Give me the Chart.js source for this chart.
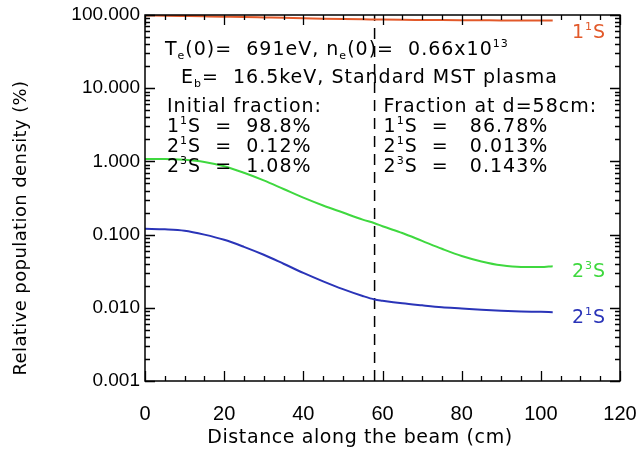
<!DOCTYPE html>
<html>
<head>
<meta charset="utf-8">
<script src="https://cdn.jsdelivr.net/npm/chart.js@4.4.1/dist/chart.umd.min.js"></script>
<style>
  html, body { margin: 0; padding: 0; background: #fff; }
  canvas { display: block; }
</style>
</head>
<body>
<canvas id="chart" width="641" height="451"></canvas>
<script>
// distance along the beam (cm)
const distance = [0, 5, 10, 15, 20, 25, 30, 35, 40, 45, 50, 55, 58, 60, 65, 70, 75, 80, 85, 90, 95, 100, 103];
// relative populations (%)
const pop11S = [98.8, 97.8, 96.8, 95.8, 94.8, 93.8, 92.6, 91.4, 90.3, 89.1, 88.1, 87.2, 86.78, 86.5, 86.0, 85.6, 85.2, 84.9, 84.6, 84.4, 84.2, 84.0, 83.9];
const pop23S = [1.08, 1.08, 1.05, 0.98, 0.86, 0.70, 0.55, 0.42, 0.32, 0.25, 0.20, 0.16, 0.143, 0.13, 0.105, 0.082, 0.064, 0.051, 0.043, 0.038, 0.036, 0.036, 0.037];
const pop21S = [0.12, 0.118, 0.113, 0.10, 0.085, 0.068, 0.053, 0.040, 0.030, 0.023, 0.018, 0.0145, 0.013, 0.0125, 0.0115, 0.0108, 0.0102, 0.0098, 0.0094, 0.0091, 0.0089, 0.0088, 0.0087];
const dashAt = 58;
const xTicks = [0, 20, 40, 60, 80, 100, 120];
const yTicks = [0.001, 0.01, 0.1, 1, 10, 100];

const RED = '#e2592a', GREEN = '#3fd83f', BLUE = '#2a34b8';
const TICKFONT = '"Liberation Sans", Arial, sans-serif';
const FONT = '"DejaVu Sans", sans-serif';

function pts(ys) {
    return distance.map((d, i) => ({x: d, y: ys[i]}));
}

// draws a string made of parts: [text, 'sub'|'sup'|undefined]
function rich(ctx, parts, x, y, size, color, spacing) {
    ctx.fillStyle = color;
    ctx.textBaseline = 'alphabetic';
    ctx.textAlign = 'left';
    ctx.letterSpacing = (spacing || 0) + 'px';
    for (const [t, kind] of parts) {
        if (kind) {
            ctx.font = Math.round(size * 0.6) + 'px ' + FONT;
            const dy = kind === 'sub' ? size * 0.2 : -size * 0.42;
            ctx.fillText(t, x, y + dy);
            x += ctx.measureText(t).width;
        } else {
            ctx.font = size + 'px ' + FONT;
            ctx.fillText(t, x, y);
            x += ctx.measureText(t).width;
        }
    }
    ctx.letterSpacing = '0px';
}

const idlFrame = {
    id: 'idlFrame',
    afterDatasetsDraw(chart) {
        const {ctx, chartArea: a} = chart;
        const sx = chart.scales.x, sy = chart.scales.y;
        ctx.save();
        ctx.strokeStyle = '#000';
        ctx.lineWidth = 1.5;
        ctx.strokeRect(a.left, a.top, a.right - a.left, a.bottom - a.top);
        ctx.beginPath();
        // x ticks, major every 20, minor every 5
        for (let v = 0; v <= 120; v += 5) {
            const px = Math.round(sx.getPixelForValue(v)) + 0.5;
            const len = v % 20 === 0 ? 10 : 5;
            ctx.moveTo(px, a.bottom); ctx.lineTo(px, a.bottom - len);
            ctx.moveTo(px, a.top); ctx.lineTo(px, a.top + len);
        }
        // y ticks on log scale
        for (let e = -3; e <= 1; e++) {
            for (let m = 1; m <= 10; m++) {
                const py = Math.round(sy.getPixelForValue(m * Math.pow(10, e))) + 0.5;
                const len = (m === 1 || m === 10) ? 10 : 5;
                ctx.moveTo(a.left, py); ctx.lineTo(a.left + len, py);
                ctx.moveTo(a.right, py); ctx.lineTo(a.right - len, py);
            }
        }
        ctx.lineWidth = 1.3;
        ctx.stroke();

        // annotations
        const s = 19, ls = 1.0;
        rich(ctx, [['T'], ['e', 'sub'], ['(0)=  691eV, n'], ['e', 'sub'], ['(0)=  0.66x10'], ['13', 'sup']], 165, 55, s, '#000', ls);
        rich(ctx, [['E'], ['b', 'sub'], ['=  16.5keV, Standard MST plasma']], 181, 83, s, '#000', ls);
        rich(ctx, [['Initial fraction:']], 167, 112, s, '#000', ls);
        rich(ctx, [['1'], ['1', 'sup'], ['S  =  98.8%']], 167, 132, s, '#000', ls);
        rich(ctx, [['2'], ['1', 'sup'], ['S  =  0.12%']], 167, 152, s, '#000', ls);
        rich(ctx, [['2'], ['3', 'sup'], ['S  =  1.08%']], 167, 172, s, '#000', ls);
        const R = sx.getPixelForValue(dashAt) + 9;
        rich(ctx, [['Fraction at d=58cm:']], R, 112, s, '#000', ls);
        rich(ctx, [['1'], ['1', 'sup'], ['S  =   86.78%']], R, 132, s, '#000', ls);
        rich(ctx, [['2'], ['1', 'sup'], ['S  =   0.013%']], R, 152, s, '#000', ls);
        rich(ctx, [['2'], ['3', 'sup'], ['S  =   0.143%']], R, 172, s, '#000', ls);

        rich(ctx, [['1'], ['1', 'sup'], ['S']], 572, 38, s, RED, ls);
        rich(ctx, [['2'], ['3', 'sup'], ['S']], 572, 277, s, GREEN, ls);
        rich(ctx, [['2'], ['1', 'sup'], ['S']], 572, 323, s, BLUE, ls);

        // axis titles
        ctx.fillStyle = '#000';
        ctx.font = '19px ' + FONT;
        ctx.textAlign = 'center';
        ctx.letterSpacing = '0.6px';
        ctx.fillText('Distance along the beam (cm)', 360, 443);
        ctx.translate(26, 228);
        ctx.rotate(-Math.PI / 2);
        ctx.font = '18px ' + FONT;
        ctx.letterSpacing = '0.4px';
        ctx.fillText('Relative population density (%)', 0, 0);
        ctx.restore();
    }
};

new Chart(document.getElementById('chart'), {
    type: 'line',
    data: {
        datasets: [
            {data: pts(pop11S), borderColor: RED, borderWidth: 2, cubicInterpolationMode: 'monotone'},
            {data: pts(pop23S), borderColor: GREEN, borderWidth: 2, cubicInterpolationMode: 'monotone'},
            {data: pts(pop21S), borderColor: BLUE, borderWidth: 2, cubicInterpolationMode: 'monotone'},
            {data: [{x: dashAt, y: 0.001}, {x: dashAt, y: 100}], borderColor: '#000', borderWidth: 1.5, borderDash: [11, 7]}
        ]
    },
    options: {
        responsive: false,
        animation: false,
        elements: {point: {radius: 0}},
        layout: {padding: {top: 15, right: 21, left: 0, bottom: 0}},
        plugins: {legend: {display: false}, tooltip: {enabled: false}},
        scales: {
            x: {
                type: 'linear', min: 0, max: 120,
                afterBuildTicks: s => { s.ticks = xTicks.map(v => ({value: v})); },
                afterFit: s => { s.height = 70; s.paddingLeft = 0; s.paddingRight = 0; },
                grid: {display: false}, border: {display: false},
                ticks: {color: '#000', font: {family: TICKFONT, size: 20}, padding: 13, maxRotation: 0}
            },
            y: {
                type: 'logarithmic', min: 0.001, max: 100,
                afterBuildTicks: s => { s.ticks = yTicks.map(v => ({value: v})); },
                afterFit: s => { s.width = 145; s.paddingTop = 0; s.paddingBottom = 0; },
                grid: {display: false}, border: {display: false},
                ticks: {color: '#000', font: {family: TICKFONT, size: 19}, padding: -3, callback: v => Number(v).toFixed(3)}
            }
        }
    },
    plugins: [idlFrame]
});
</script>
</body>
</html>
